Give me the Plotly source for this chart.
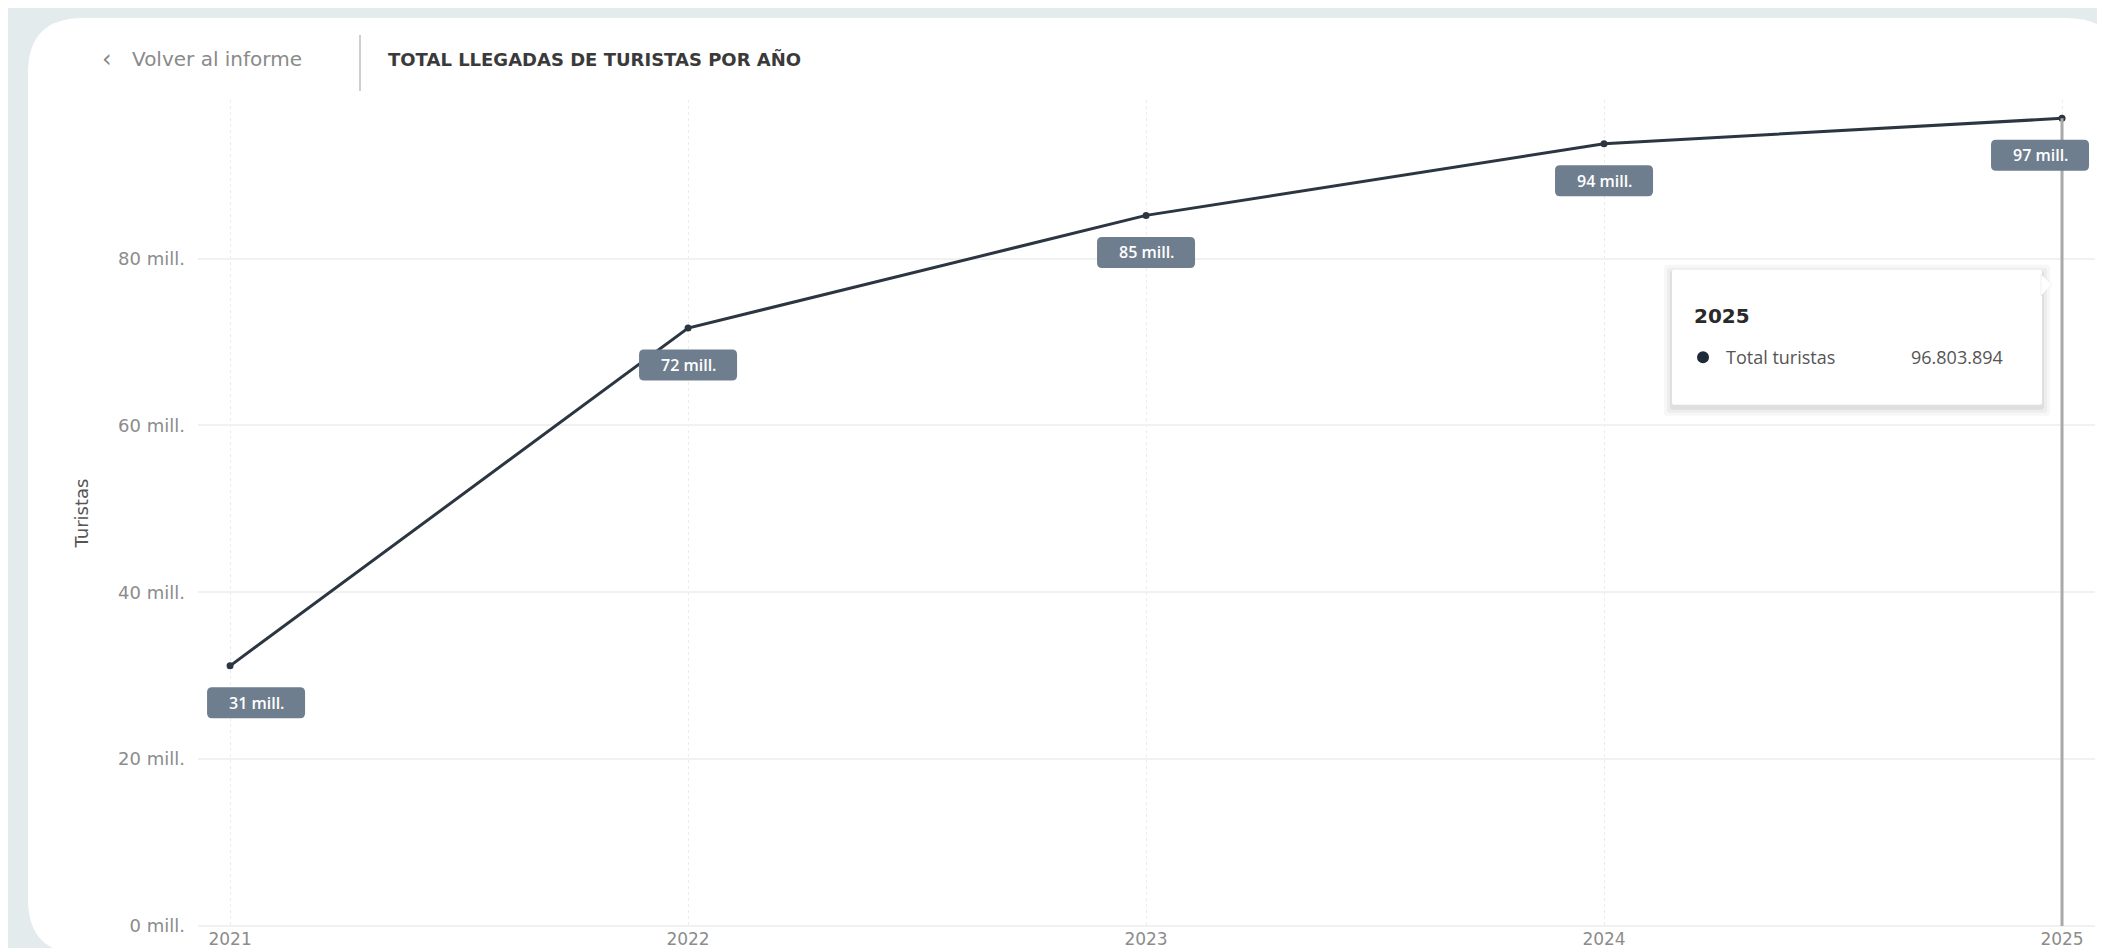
import plotly.graph_objects as go

# ---- data ----
years = [2021, 2022, 2023, 2024, 2025]
tourists = [31180000, 71660000, 85170000, 93760000, 96803894]
y_ticks = [0, 20e6, 40e6, 60e6, 80e6]
y_tick_labels = ["0 mill.", "20 mill.", "40 mill.", "60 mill.", "80 mill."]
x_tick_labels = ["2021", "2022", "2023", "2024", "2025"]
series_name = "Total turistas"
title_text = "TOTAL LLEGADAS DE TURISTAS POR AÑO"
back_text = "Volver al informe"
y_title = "Turistas"

# ---- layout geometry ----
W, H = 2105, 948
ML, MR, MT, MB = 190, 18, 92, 30
PW, PH = W - ML - MR, H - MT - MB


def px(xp):
    return (xp - ML) / PW


def py(yp):
    return 1 - (yp - MT) / PH


LINE = "#2b3642"
LABEL_BG = "#6f7e8e"

fig = go.Figure()
fig.add_trace(go.Scatter(
    x=years, y=tourists, mode="lines+markers", name=series_name,
    line=dict(color=LINE, width=3),
    marker=dict(color=LINE, size=7),
    showlegend=False, hoverinfo="skip",
))

shapes = []
annotations = []

# white rounded panel
r = 55
x0, x1, y0, y1 = 20, 2113, 10, 946
path = (f"M {px(x0+r)},{py(y0)} L {px(x1-r)},{py(y0)} "
        f"Q {px(x1)},{py(y0)} {px(x1)},{py(y0+r)} "
        f"L {px(x1)},{py(y1-r)} Q {px(x1)},{py(y1)} {px(x1-r)},{py(y1)} "
        f"L {px(x0+r)},{py(y1)} Q {px(x0)},{py(y1)} {px(x0)},{py(y1-r)} "
        f"L {px(x0)},{py(y0+r)} Q {px(x0)},{py(y0)} {px(x0+r)},{py(y0)} Z")
shapes.append(dict(type="path", xref="paper", yref="paper", path=path,
                   fillcolor="white", line=dict(width=0), layer="below"))

# hover crosshair line at last point
shapes.append(dict(type="line", xref="x", yref="y", x0=years[-1], x1=years[-1],
                   y0=0, y1=tourists[-1], line=dict(color="#a9a9a9", width=3),
                   layer="above"))


def rrect(cx, cy, w, h, rad):
    l, rr, b, t = cx - w / 2, cx + w / 2, cy - h / 2, cy + h / 2
    return (f"M {l+rad},{b} L {rr-rad},{b} Q {rr},{b} {rr},{b+rad} "
            f"L {rr},{t-rad} Q {rr},{t} {rr-rad},{t} L {l+rad},{t} "
            f"Q {l},{t} {l},{t-rad} L {l},{b+rad} Q {l},{b} {l+rad},{b} Z")


# data labels
dxs = [26, 0, 0, 0, -22]
dy = -37
for yr, v, dx in zip(years, tourists, dxs):
    shapes.append(dict(type="path", xref="x", yref="y", xsizemode="pixel",
                       ysizemode="pixel", xanchor=yr, yanchor=v,
                       path=rrect(dx, dy, 98, 31, 5), fillcolor=LABEL_BG,
                       line=dict(width=0), layer="above"))
    annotations.append(dict(x=yr, y=v, xref="x", yref="y", xshift=dx, yshift=dy,
                            text=f"{round(v / 1e6)} mill.", showarrow=False,
                            font=dict(family="Open Sans", size=16, color="white",
                                      weight=600),
                            xanchor="center", yanchor="middle"))

# tooltip anchored to last point
tx, tv = years[-1], tourists[-1]
for grow, alpha in [(8, 0.03), (5, 0.04), (2, 0.06)]:
    shapes.append(dict(type="path", xref="x", yref="y", xsizemode="pixel",
                       ysizemode="pixel", xanchor=tx, yanchor=tv,
                       path=rrect(-205, -222, 370 + 2 * grow, 135 + 2 * grow, 3),
                       fillcolor=f"rgba(0,0,0,{alpha})", line=dict(width=0),
                       layer="above"))
shapes.append(dict(type="path", xref="x", yref="y", xsizemode="pixel",
                   ysizemode="pixel", xanchor=tx, yanchor=tv,
                   path=rrect(-205, -219, 370, 135, 2), fillcolor="white",
                   line=dict(width=0), layer="above"))
shapes.append(dict(type="path", xref="x", yref="y", xsizemode="pixel",
                   ysizemode="pixel", xanchor=tx, yanchor=tv,
                   path="M -21,-156 L -10,-166 L -21,-178 Z", fillcolor="white",
                   line=dict(color="rgba(0,0,0,0.06)", width=1), layer="above"))
shapes.append(dict(type="circle", xref="x", yref="y", xsizemode="pixel",
                   ysizemode="pixel", xanchor=tx, yanchor=tv,
                   x0=-365, x1=-353, y0=-245, y1=-233, fillcolor="#1f2a38",
                   line=dict(width=0), layer="above"))
annotations.append(dict(x=tx, y=tv, xref="x", yref="y", xshift=-370, yshift=-198,
                        text=f"<b>{x_tick_labels[-1]}</b>", showarrow=False,
                        font=dict(family="DejaVu Sans", size=20, color="#2a2a2a"),
                        xanchor="left", yanchor="middle"))
annotations.append(dict(x=tx, y=tv, xref="x", yref="y", xshift=-338, yshift=-239,
                        text=series_name, showarrow=False,
                        font=dict(family="Open Sans", size=18, color="#555555"),
                        xanchor="left", yanchor="middle"))
annotations.append(dict(x=tx, y=tv, xref="x", yref="y", xshift=-57, yshift=-239,
                        text=f"{tv:,}".replace(",", "."), showarrow=False,
                        font=dict(family="Open Sans", size=18, color="#555555"),
                        xanchor="right", yanchor="middle"))

# header
annotations.append(dict(x=px(92), y=py(51), xref="paper", yref="paper",
                        text="‹", showarrow=False, xanchor="left", yanchor="middle",
                        font=dict(family="DejaVu Sans", size=24, color="#888888")))
annotations.append(dict(x=px(122), y=py(51), xref="paper", yref="paper",
                        text=back_text, showarrow=False, xanchor="left",
                        yanchor="middle",
                        font=dict(family="DejaVu Sans", size=20, color="#8a8a8a")))
shapes.append(dict(type="line", xref="paper", yref="paper", x0=px(352), x1=px(352),
                   y0=py(27), y1=py(83), line=dict(color="#cfcfcf", width=2)))
annotations.append(dict(x=px(378), y=py(51), xref="paper", yref="paper",
                        text=f"<b>{title_text}</b>", showarrow=False,
                        xanchor="left", yanchor="middle",
                        font=dict(family="DejaVu Sans", size=18, color="#3a3a3a")))

fig.update_layout(
    width=W, height=H,
    margin=dict(l=ML, r=MR, t=MT, b=MB, autoexpand=False),
    paper_bgcolor="#e3ebed",
    plot_bgcolor="rgba(0,0,0,0)",
    shapes=shapes, annotations=annotations,
    xaxis=dict(range=[2020.93, 2025.072], tickvals=years, ticktext=x_tick_labels,
               showgrid=True, gridcolor="#ececec", griddash="dot", gridwidth=1,
               zeroline=False, showline=False, ticks="", ticklabelstandoff=1,
               tickfont=dict(family="DejaVu Sans", size=17, color="#8c8c8c")),
    yaxis=dict(range=[0, 99e6], tickvals=y_ticks, ticktext=y_tick_labels,
               showgrid=True, gridcolor="#f1f1f1", gridwidth=2,
               zeroline=True, zerolinecolor="#f1f1f1", zerolinewidth=2,
               showline=False, ticks="", ticklabelstandoff=12,
               tickfont=dict(family="DejaVu Sans", size=18, color="#8c8c8c"),
               title=dict(text=y_title, standoff=24,
                          font=dict(family="DejaVu Sans", size=18, color="#555555"))),
)

fig.write_html("out.html")
